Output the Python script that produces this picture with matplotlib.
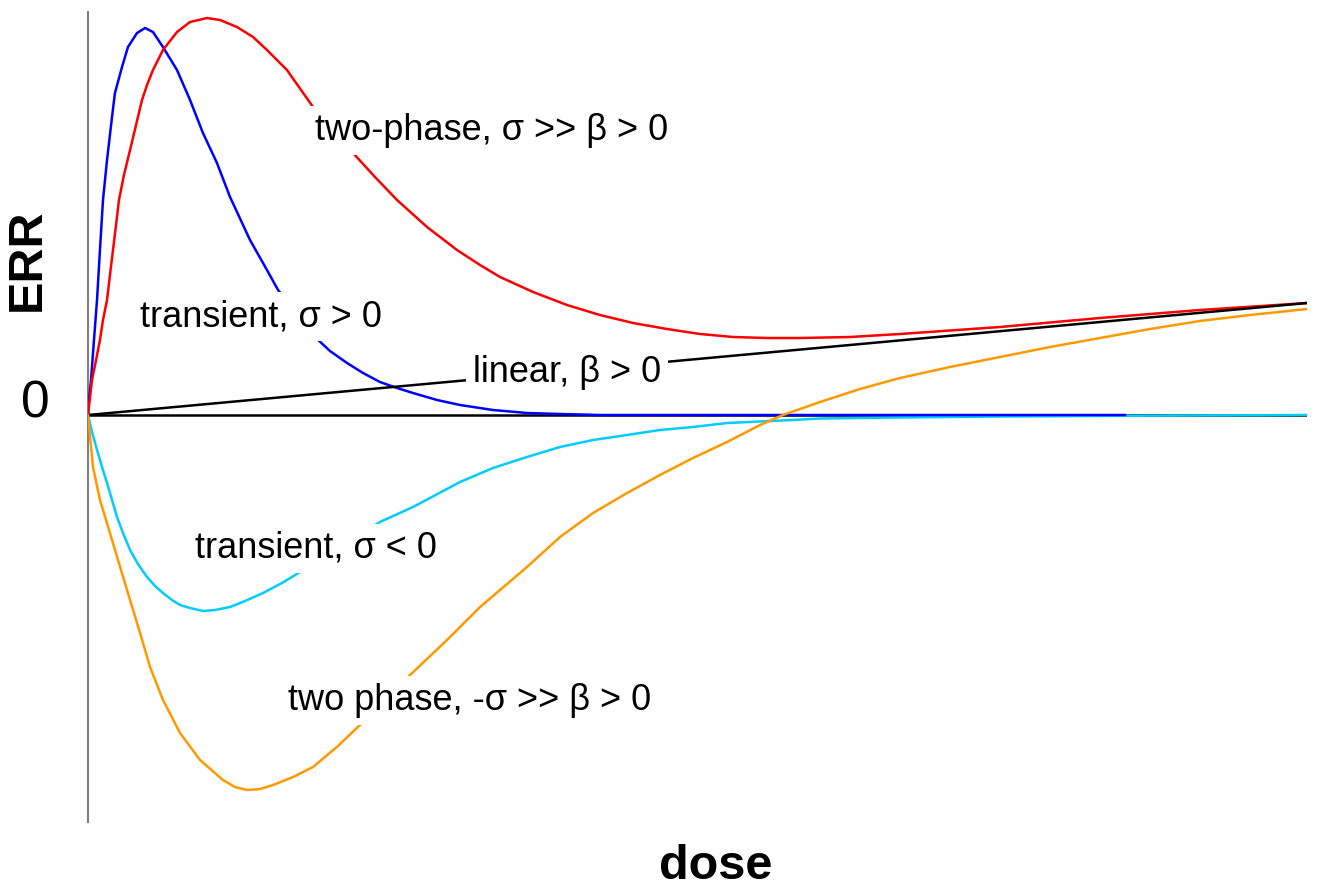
import numpy as np
import matplotlib.pyplot as plt

plt.rcParams['font.family'] = ['Liberation Sans', 'DejaVu Sans']

# Curves (dose, ERR) - arbitrary units
red_dose = [0, 0.016, 0.033, 0.066, 0.098, 0.123, 0.156, 0.180, 0.205, 0.230,
            0.254, 0.295, 0.345, 0.394, 0.443, 0.484, 0.533, 0.615, 0.730, 0.837,
            0.976, 1.083, 1.222, 1.354, 1.468, 1.632, 1.846, 2.010, 2.174, 2.354,
            2.535, 2.781, 3.027, 3.216, 3.380, 3.651, 3.929, 4.200, 4.471, 4.750,
            5.021, 5.291, 5.570, 5.841, 6.251, 6.661, 7.482, 8.302, 9.122, 10.0]
red_err = [0, 0.17, 0.35, 0.55, 0.75, 0.95, 1.15, 1.40, 1.65, 1.90,
           2.15, 2.40, 2.65, 2.90, 3.15, 3.30, 3.45, 3.65, 3.83, 3.93,
           3.97, 3.95, 3.88, 3.78, 3.65, 3.45, 3.08, 2.85, 2.62, 2.38,
           2.15, 1.88, 1.65, 1.50, 1.38, 1.23, 1.10, 1.00, 0.92, 0.86,
           0.81, 0.78, 0.77, 0.77, 0.78, 0.81, 0.88, 0.97, 1.05, 1.12]

blue_dose = [0, 0.008, 0.025, 0.049, 0.074, 0.098, 0.123, 0.156, 0.197, 0.221,
             0.279, 0.328, 0.402, 0.468, 0.533, 0.615, 0.730, 0.837, 0.943, 1.058,
             1.165, 1.329, 1.468, 1.559, 1.862, 1.985, 2.125, 2.256, 2.395, 2.535,
             2.666, 2.863, 3.052, 3.322, 3.601, 3.872, 4.200, 4.610, 8.507]
blue_err = [0, 0.15, 0.35, 0.75, 1.15, 1.65, 2.15, 2.55, 2.98, 3.22,
            3.48, 3.68, 3.82, 3.87, 3.83, 3.68, 3.45, 3.15, 2.82, 2.52,
            2.18, 1.75, 1.45, 1.25, 0.78, 0.64, 0.52, 0.42, 0.33, 0.27,
            0.22, 0.15, 0.10, 0.05, 0.02, 0.01, 0.0, 0.0, 0.0]

cyan_dose = [0, 0.033, 0.074, 0.115, 0.156, 0.197, 0.238, 0.287, 0.345, 0.410,
             0.484, 0.550, 0.615, 0.689, 0.755, 0.837, 0.943, 1.042, 1.165, 1.288,
             1.436, 1.591, 1.739, 2.395, 2.666, 3.052, 3.322, 3.601, 3.872, 4.143,
             4.422, 4.692, 4.963, 5.242, 5.513, 5.783, 6.005, 6.661, 7.482, 8.507, 10.0]
cyan_err = [0, -0.17, -0.35, -0.52, -0.68, -0.85, -1.02, -1.18, -1.35, -1.49,
            -1.62, -1.71, -1.78, -1.85, -1.90, -1.93, -1.96, -1.95, -1.92, -1.86,
            -1.78, -1.68, -1.57, -1.07, -0.92, -0.67, -0.53, -0.42, -0.32, -0.25,
            -0.20, -0.15, -0.12, -0.08, -0.065, -0.05, -0.035, -0.025, -0.015, -0.008, 0.0]

orange_dose = [0, 0.041, 0.098, 0.180, 0.263, 0.345, 0.427, 0.509, 0.615, 0.755,
               0.919, 1.107, 1.206, 1.304, 1.411, 1.518, 1.682, 1.846, 2.051, 2.256,
               2.642, 2.945, 3.216, 3.601, 3.872, 4.143, 4.422, 4.692, 4.963, 5.242,
               5.513, 5.701, 6.005, 6.333, 6.661, 7.071, 7.482, 7.892, 8.302, 8.712,
               9.122, 9.532, 10.0]
orange_err = [0, -0.52, -0.85, -1.18, -1.52, -1.85, -2.18, -2.52, -2.85, -3.18,
              -3.45, -3.65, -3.72, -3.75, -3.74, -3.70, -3.62, -3.52, -3.31, -3.07,
              -2.60, -2.25, -1.92, -1.52, -1.22, -0.98, -0.78, -0.60, -0.43, -0.27,
              -0.10, 0.0, 0.13, 0.26, 0.37, 0.48, 0.58, 0.68, 0.77, 0.86,
              0.94, 1.00, 1.06]

linear_dose = [0, 10.0]
linear_err = [0, 1.12]

labels = ['two-phase, σ >> β > 0', 'transient, σ > 0', 'linear, β > 0',
          'transient, σ < 0', 'two phase, -σ >> β > 0']
label_dose = [1.862, 0.427, 3.158, 0.878, 1.641]
label_err = [2.75, 0.89, 0.33, -1.43, -2.95]

lw = 1.8

fig = plt.figure(figsize=(13.29, 8.88), dpi=100)
ax = fig.add_axes([88 / 1329, 66 / 888, (1307 - 88) / 1329, 810 / 888])
ax.set_xlim(0, 10)
ax.set_ylim(-4.07, 4.03)

ax.plot([0, 10], [0, 0], color='black', linewidth=lw, zorder=1)
ax.plot(cyan_dose, cyan_err, color='#00ccff', linewidth=lw, zorder=2)
ax.plot(blue_dose, blue_err, color='#0000ff', linewidth=lw, zorder=3)
ax.plot(red_dose, red_err, color='#ff0000', linewidth=lw, zorder=3)
ax.plot(linear_dose, linear_err, color='black', linewidth=lw, zorder=4)
ax.plot(orange_dose, orange_err, color='#ff9900', linewidth=lw, zorder=5)

# labels sit on the curves with a white box that cuts the line
for txt, xd, yd in zip(labels, label_dose, label_err):
    ax.text(xd, yd, txt, fontsize=26, ha='left', va='baseline', zorder=10,
            bbox=dict(boxstyle='square,pad=0.2', facecolor='white', edgecolor='none'))

for side in ['top', 'right', 'bottom']:
    ax.spines[side].set_visible(False)
ax.spines['left'].set_color('#808080')
ax.spines['left'].set_linewidth(1.5)
ax.set_xticks([])
ax.set_yticks([])

fig.text(27 / 1329, 1 - 260 / 888, 'ERR', rotation=90, fontsize=35, fontweight='bold',
         ha='center', va='center')
fig.text(35 / 1329, 1 - 404 / 888, '0', fontsize=37, ha='center', va='center')
fig.text(716 / 1329, 1 - 866 / 888, 'dose', fontsize=35, fontweight='bold',
         ha='center', va='center')

fig.savefig('out.png', dpi=100, facecolor='white')
